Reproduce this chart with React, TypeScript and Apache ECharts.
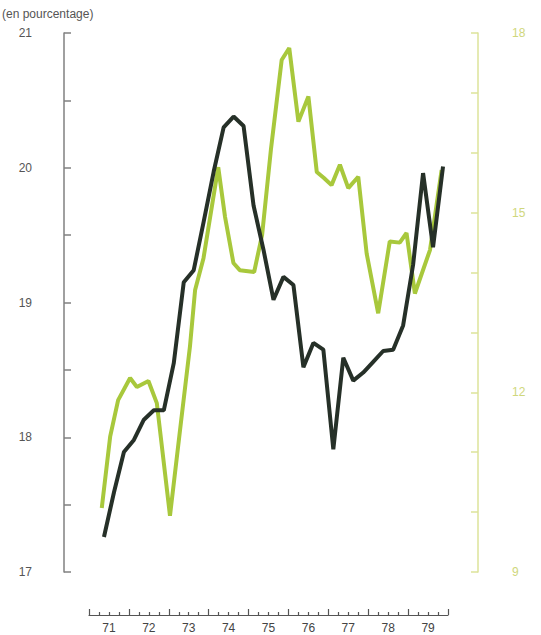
import React, { useEffect, useRef } from "react";
import * as echarts from "echarts";

// Black series (left axis), quarterly from 1971 Q2 to 1979 Q4
const blackStartYear = 71.375;
const blackValues = [
  17.26, 17.59, 17.89, 17.98, 18.13, 18.2, 18.2, 18.55, 19.15, 19.24,
  19.6, 19.97, 20.3, 20.38, 20.31, 19.72, 19.39, 19.02, 19.19, 19.13,
  18.52, 18.7, 18.65, 17.91, 18.59, 18.42, 18.48, 18.56, 18.64, 18.65,
  18.83, 19.28, 19.96, 19.41, 20.01,
];

// Green series (right axis): dates (decimal years) and values
const greenDates = [
  71.32, 71.53, 71.73, 72.03, 72.2, 72.49, 72.7, 73.03, 73.28, 73.53,
  73.66, 73.87, 74.24, 74.41, 74.62, 74.78, 75.14, 75.34, 75.56, 75.83,
  76.02, 76.25, 76.5, 76.71, 76.89, 77.08, 77.29, 77.5, 77.75, 77.96,
  78.25, 78.54, 78.79, 78.96, 79.17, 79.55, 79.84,
];
const greenValues = [
  10.07, 11.26, 11.87, 12.24, 12.09, 12.19, 11.82, 9.94, 11.36, 12.76,
  13.71, 14.24, 15.76, 14.93, 14.16, 14.04, 14.01, 14.63, 16.05, 17.55,
  17.75, 16.52, 16.94, 15.68, 15.58, 15.46, 15.8, 15.41, 15.6, 14.32,
  13.32, 14.52, 14.5, 14.66, 13.65, 14.38, 15.71,
];

const yearLabels = ["71", "72", "73", "74", "75", "76", "77", "78", "79"];
const leftLabels = [17, 18, 19, 20, 21];
const rightLabels = [9, 12, 15, 18];
const unitLabel = "(en pourcentage)";

export default function App() {
  const ref = useRef<HTMLDivElement>(null);
  useEffect(() => {
    if (!ref.current) return;
    const chart = echarts.init(ref.current, undefined, { renderer: "svg" });
    const blackData = blackValues.map((v, i) => [blackStartYear + i * 0.25, v]);
    const greenData = greenValues.map((v, i) => [greenDates[i], v]);
    const font = "Liberation Sans, Arial, sans-serif";
    chart.setOption({
      animation: false,
      backgroundColor: "#ffffff",
      title: {
        text: unitLabel,
        left: 2,
        top: 8,
        padding: 0,
        textStyle: { fontSize: 12, fontWeight: "normal", color: "#555", fontFamily: font },
      },
      grid: [
        { left: 64, right: 63, top: 33, bottom: 63, containLabel: false, outerBoundsMode: "none" },
        { left: 89, right: 93, bottom: 20, height: 10, containLabel: false, outerBoundsMode: "none" },
      ],
      xAxis: [
        { type: "value", gridIndex: 0, min: 70.373, max: 80.752, show: false },
        {
          type: "value",
          gridIndex: 1,
          min: 71,
          max: 80,
          interval: 1,
          position: "bottom",
          axisLine: { show: true, lineStyle: { color: "#555", width: 1.2 } },
          axisTick: { show: true, inside: true, length: 6, lineStyle: { color: "#555", width: 1.2 } },
          minorTick: { show: true, splitNumber: 4, length: 3, lineStyle: { color: "#555", width: 1.2 } },
          axisLabel: { show: false },
          splitLine: { show: false },
        },
        {
          type: "category",
          gridIndex: 1,
          position: "bottom",
          data: yearLabels,
          boundaryGap: true,
          axisLine: { show: false },
          axisTick: { show: false },
          axisLabel: { color: "#444", fontSize: 12, margin: 7, fontFamily: font },
        },
      ],
      yAxis: [
        {
          type: "value",
          gridIndex: 0,
          position: "left",
          min: 17,
          max: 21,
          interval: 0.5,
          axisLine: { show: true, lineStyle: { color: "#808080", width: 1.5 } },
          axisTick: { show: true, inside: true, length: 7, lineStyle: { color: "#808080", width: 1.5 } },
          axisLabel: {
            color: "#555",
            fontSize: 12,
            margin: 28,
            padding: [0, 4, 0, 0],
            fontFamily: font,
            formatter: (v: number) => (leftLabels.includes(v) ? String(v) : ""),
          },
          splitLine: { show: false },
        },
        {
          type: "value",
          gridIndex: 0,
          position: "right",
          min: 9,
          max: 18,
          interval: 1,
          axisLine: { show: true, lineStyle: { color: "#dde39a", width: 1.5 } },
          axisTick: { show: true, inside: true, length: 7, lineStyle: { color: "#dde39a", width: 1.5 } },
          axisLabel: {
            color: "#cfd77c",
            fontSize: 12,
            margin: 8,
            padding: [0, 0, 0, 26],
            fontFamily: font,
            formatter: (v: number) => (rightLabels.includes(v) ? String(v) : ""),
          },
          splitLine: { show: false },
        },
        { type: "value", gridIndex: 1, show: false, min: 0, max: 1 },
      ],
      series: [
        {
          type: "line",
          xAxisIndex: 0,
          yAxisIndex: 1,
          data: greenData,
          symbol: "none",
          lineStyle: { color: "#a8c83c", width: 4 },
        },
        {
          type: "line",
          xAxisIndex: 0,
          yAxisIndex: 0,
          data: blackData,
          symbol: "none",
          lineStyle: { color: "#263028", width: 4 },
        },
      ],
    });
    return () => chart.dispose();
  }, []);
  return (
    <div
      ref={ref}
      style={{ position: "fixed", left: 0, top: 0, width: 541, height: 635 }}
    />
  );
}
